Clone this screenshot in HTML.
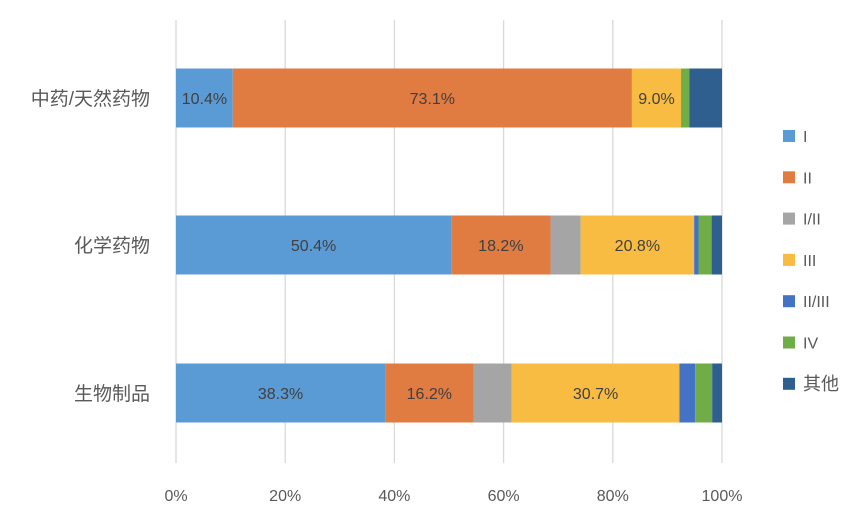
<!DOCTYPE html>
<html><head><meta charset="utf-8"><style>
body{margin:0;background:#fff;}
svg text{font-family:"Liberation Sans","Noto Sans CJK SC",sans-serif;}
</style></head><body>
<svg id="c" width="864" height="514"></svg>
<script>
const categories=["中药/天然药物","化学药物","生物制品"];
const seriesNames=["I","II","I/II","III","II/III","IV","其他"];
const colors=["#5b9bd5","#e07b42","#a5a5a5","#f8bc43","#4472c4","#70ad47","#2e5f8e"];
const sI=[10.4,50.4,38.3];
const sII=[73.1,18.2,16.2];
const sIII_=[0,5.5,7.0];
const sIII=[9.0,20.8,30.7];
const sIIIII=[0,0.8,2.9];
const sIV=[1.5,2.4,3.1];
const sOther=[6.0,1.9,1.8];
const labeled=[true,true,false,true,false,false,false];
const ticks=["0%","20%","40%","60%","80%","100%"];
const series=[sI,sII,sIII_,sIII,sIIIII,sIV,sOther];
const ns="http://www.w3.org/2000/svg";
const svg=document.getElementById('c');
const x0=176,x1=722;
const X=v=>x0+(x1-x0)*v/100;
const rowY=[98,245,393],barH=59;
function el(t,a,txt){const e=document.createElementNS(ns,t);for(const k in a)e.setAttribute(k,a[k]);if(txt!=null)e.textContent=txt;svg.appendChild(e);return e;}
ticks.forEach((t,i)=>{
  const v=i*20;
  const g=el('line',{x1:X(v),x2:X(v),y1:20,y2:463,stroke:'#d9d9d9','stroke-width':1.3});
  
  
  const tx=el('text',{x:X(v),y:501,'text-anchor':'middle','font-size':16,fill:'#595959'},t);
  
  
});
categories.forEach((c,ci)=>{
  const cy=rowY[ci];
  const lt=el('text',{x:150,y:cy+7,'text-anchor':'end','font-size':19,fill:'#595959'},c);
  
  
  let acc=0;
  series.forEach((s,si)=>{
    const v=s[ci];
    if(v<=0)return;
    const r=el('rect',{x:X(acc),y:cy-barH/2,width:X(acc+v)-X(acc),height:barH,fill:colors[si]});
    
    
    if(labeled[si]&&v>=8){
      const t=el('text',{x:(X(acc)+X(acc+v))/2,y:cy+6,'text-anchor':'middle','font-size':16,fill:'#404040'},v.toFixed(1)+'%');
      
      
    }
    acc+=v;
  });
});
seriesNames.forEach((n,i)=>{
  const y=136+i*41.3;
  const r=el('rect',{x:783,y:y-6,width:12,height:12,fill:colors[i]});
  
  
  const t=el('text',{x:803,y:y+6,'font-size':n==='其他'?18:16,fill:'#595959'},n);
  
  
});
</script>
</body></html>
